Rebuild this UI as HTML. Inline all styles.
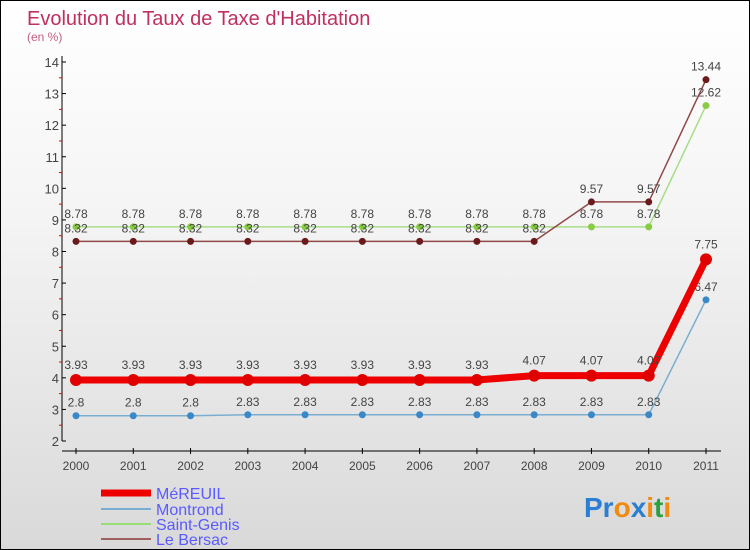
<!DOCTYPE html>
<html><head><meta charset="utf-8"><style>
body{margin:0;}
#c{width:750px;height:550px;position:relative;box-sizing:border-box;border:1px solid #000;background:linear-gradient(#fff 0%,#f4f4f4 40%,#d9d9d9 100%);overflow:hidden;font-family:"Liberation Sans",sans-serif;}
</style></head><body>
<div id="c">
<svg id="s" width="748" height="548" xmlns="http://www.w3.org/2000/svg" style="position:absolute;left:0;top:0">
<text x="26" y="24" font-size="20" fill="#c0305e">Evolution du Taux de Taxe d'Habitation</text>
<text x="26" y="40" font-size="12" fill="#c46080">(en %)</text>
<g id="axes"></g><g id="series"></g>
<g>
<line x1="100" y1="492" x2="150" y2="492" stroke="#e00" stroke-width="7"/>
<text x="155" y="498" font-size="16" fill="#5a5aff">MéREUIL</text>
<line x1="100" y1="508" x2="150" y2="508" stroke="#7aaed0" stroke-width="2"/>
<text x="155" y="514" font-size="16" fill="#5a5aff">Montrond</text>
<line x1="100" y1="523" x2="150" y2="523" stroke="#99dd77" stroke-width="2"/>
<text x="155" y="529" font-size="16" fill="#5a5aff">Saint-Genis</text>
<line x1="100" y1="538" x2="150" y2="538" stroke="#a06060" stroke-width="2"/>
<text x="155" y="544" font-size="16" fill="#5a5aff">Le Bersac</text>
</g>
<text x="583" y="516" font-size="28" font-weight="bold"><tspan fill="#2a7fd4">Pr</tspan><tspan fill="#f08a10">o</tspan><tspan fill="#2a7fd4">x</tspan><tspan fill="#f08a10">i</tspan><tspan fill="#2aa040">t</tspan><tspan fill="#f08a10">i</tspan></text>
</svg>
</div>
<script>
const years=["2000","2001","2002","2003","2004","2005","2006","2007","2008","2009","2010","2011"];
const yTicks=[2,3,4,5,6,7,8,9,10,11,12,13,14];
const mereuil=[3.93,3.93,3.93,3.93,3.93,3.93,3.93,3.93,4.07,4.07,4.07,7.75];
const montrond=[2.8,2.8,2.8,2.83,2.83,2.83,2.83,2.83,2.83,2.83,2.83,6.47];
const saintGenis=[8.78,8.78,8.78,8.78,8.78,8.78,8.78,8.78,8.78,8.78,8.78,12.62];
const leBersac=[8.32,8.32,8.32,8.32,8.32,8.32,8.32,8.32,8.32,9.57,9.57,13.44];
const NS="http://www.w3.org/2000/svg";
function X(i){return 75+i*(630/11);}
function Y(v){return 440-(v-2)*(379/12);}
function mk(t,a,p){const e=document.createElementNS(NS,t);for(const k in a)e.setAttribute(k,a[k]);p.appendChild(e);return e;}
const ax=document.getElementById('axes');
let l=mk('line',{x1:61,y1:55,x2:61,y2:440,stroke:'#000'},ax);


l=mk('line',{x1:61,y1:450,x2:720,y2:450,stroke:'#000'},ax);


yTicks.forEach(v=>{
 mk('line',{x1:61,y1:Y(v),x2:65,y2:Y(v),stroke:'#000'},ax);
 const t=mk('text',{x:58,y:Y(v)+5,'text-anchor':'end','font-size':13,fill:'#444'},ax);t.textContent=v;
 
 
 if(v<14) mk('line',{x1:58,y1:Y(v+0.5),x2:61,y2:Y(v+0.5),stroke:'#e00'},ax);
});
years.forEach((y,i)=>{
 mk('line',{x1:X(i),y1:447,x2:X(i),y2:453,stroke:'#000'},ax);
 const t=mk('text',{x:X(i),y:469,'text-anchor':'middle','font-size':12,fill:'#444'},ax);t.textContent=y;
 
 
});
const sg=document.getElementById('series');
function draw(name,data,color,w,r,fill){
 const g=mk('g',{},sg);
 
 
 const p=mk('polyline',{points:data.map((v,i)=>X(i)+','+Y(v)).join(' '),fill:'none',stroke:color,'stroke-width':w},g);
 data.forEach((v,i)=>{
  const c=mk('circle',{cx:X(i),cy:Y(v),r:r,fill:fill},g);
  
  
  const t=mk('text',{x:X(i),y:Y(v)-9-(r>5?2:0),'text-anchor':'middle','font-size':12,fill:'#444'},g);t.textContent=v;
  
  
 });
}
draw('series-saint-genis',saintGenis,'#a8dd88',1.5,3.5,'#88cc44');
draw('series-le-bersac',leBersac,'#904848',1.5,3.5,'#6a1a1a');
draw('series-montrond',montrond,'#7aaed0',1.5,3.5,'#3a88c8');
draw('series-mereuil',mereuil,'#ee0000',7,6,'#e00000');
</script>
</body></html>
